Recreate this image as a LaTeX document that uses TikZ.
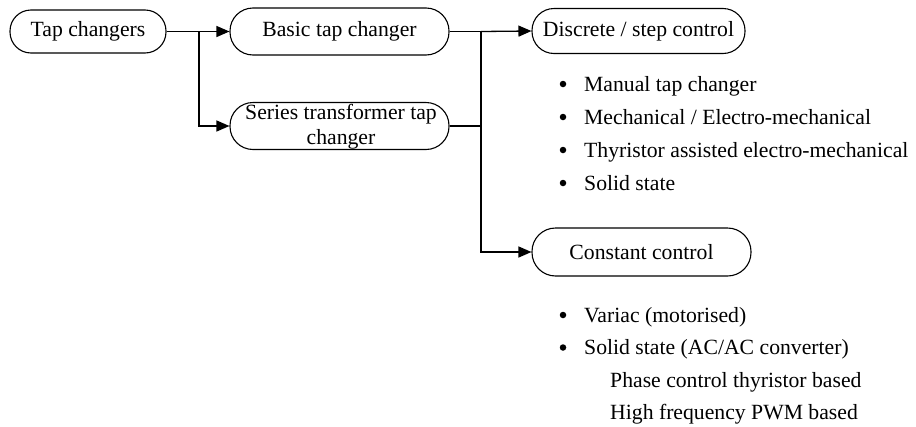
\documentclass[tikz,border=0pt]{standalone}
\usepackage{fontspec}
\setmainfont{Liberation Serif}
\usetikzlibrary{arrows.meta}
\begin{document}
\begin{tikzpicture}[x=1pt,y=-1pt,
  font=\fontsize{21.7}{25}\selectfont,
  box/.style={draw, line width=1.1pt, rounded corners=23pt,
    minimum width=219pt, minimum height=47pt, inner sep=0pt},
  link/.style={line width=1.3pt},
  arr/.style={link, -{Triangle[length=13pt,width=11pt]}},
  entry/.style={anchor=base west, inner sep=0pt},
  dot/.style={circle, fill, inner sep=0pt, minimum size=6.5pt}]
\useasboundingbox (0,0) rectangle (916,426);

% boxes
\node[box, minimum width=156pt, minimum height=43pt, rounded corners=21pt]
  (root) at (88,31.5) {Tap changers};
\node[box] (basic) at (339.5,31.5) {Basic tap changer};
\node[box] (series) at (339.5,126) {};
\node[align=center, inner sep=0pt] (seriestext) at (341,127)
  {Series transformer tap\\changer};
\node[box, minimum width=213pt, minimum height=45pt, rounded corners=22pt]
  (discrete) at (638.5,31) {Discrete / step control};
\node[box, minimum height=48pt, rounded corners=23.5pt]
  (constant) at (641.5,252) {Constant control};

% connectors
\coordinate (j1) at (199,31.5);
\coordinate (j2) at (481,31.5);
\draw[link] (root.east) -- (j1);
\draw[arr] (j1) -- (basic.west);
\draw[arr] (j1) |- (series.west);
\draw[link] (basic.east) -- (j2);
\draw[link] (series.east) -- (series.east -| j2);
\draw[arr] (j2) -- (discrete.west);
\draw[arr] (j2) |- (constant.west);

% discrete / step control variants
\foreach \y/\t [count=\i] in {91/{Manual tap changer},
    124/{Mechanical / Electro-mechanical},
    157/{Thyristor assisted electro-mechanical},
    190/{Solid state}} {
  \node[dot] (db\i) at (563,\y-7) {};
  \node[entry] (dt\i) at (584,\y) {\t};
}

% constant control variants
\node[dot] (cb1) at (563,315) {};
\node[entry] (ct1) at (584,322) {Variac (motorised)};
\node[dot] (cb2) at (563,347.5) {};
\node[entry] (ct2) at (584,354.5) {Solid state (AC/AC converter)};
\node[entry] (ct3) at (610,387) {Phase control thyristor based};
\node[entry] (ct4) at (610,419) {High frequency PWM based};
\end{tikzpicture}
\end{document}
